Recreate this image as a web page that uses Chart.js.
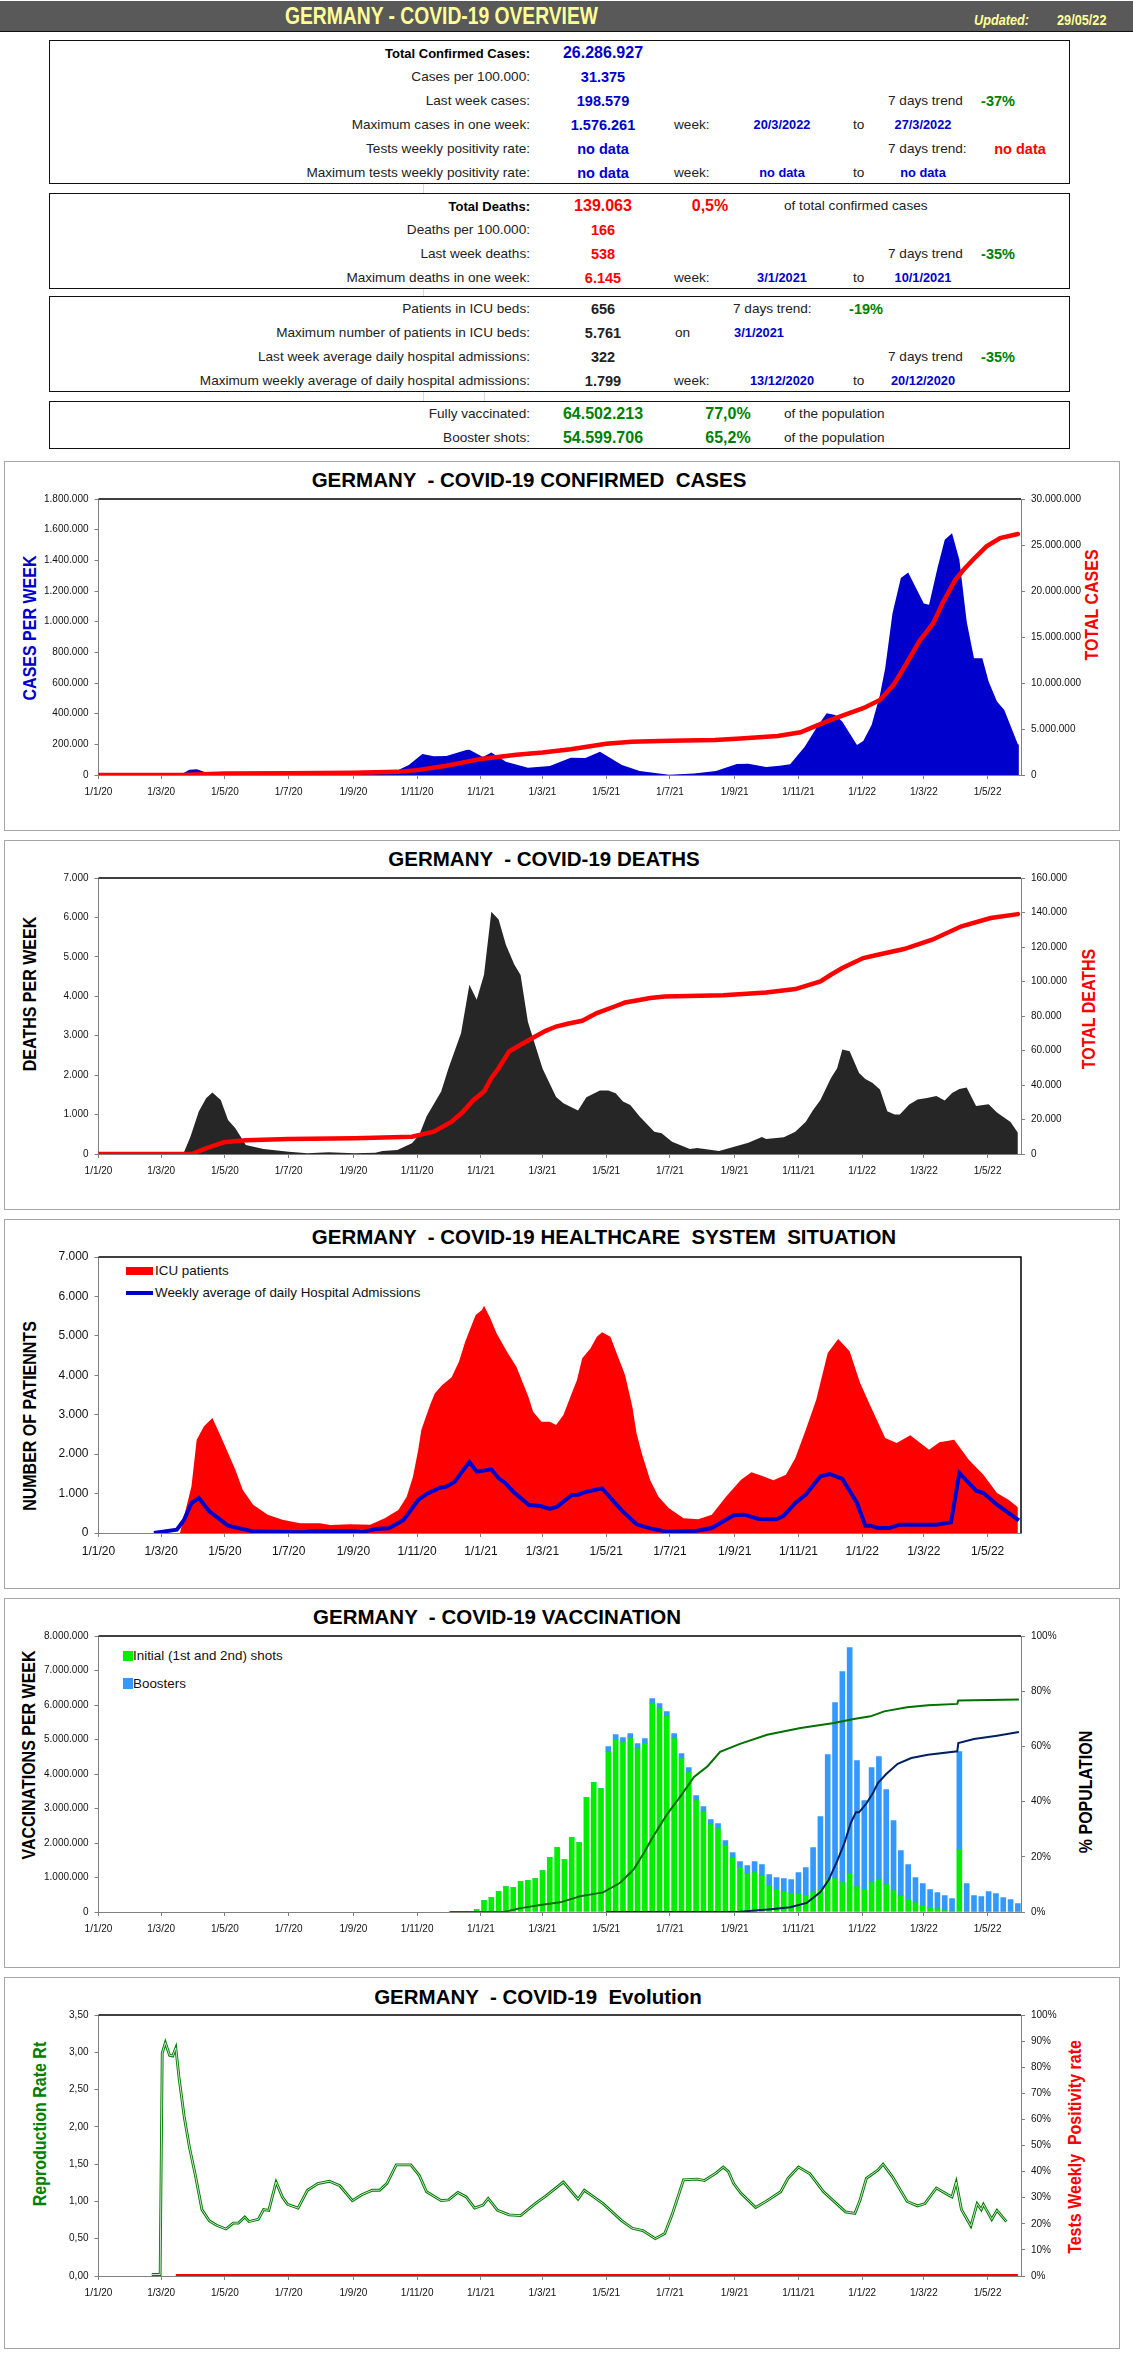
<!DOCTYPE html>
<html>
<head>
<meta charset="utf-8">
<title>Germany COVID-19 overview</title>
<script src="https://cdn.jsdelivr.net/npm/chart.js@4"></script>
<style>
html, body { margin: 0; padding: 0; background: #fff; }
body { position: relative; width: 1133px; height: 2367px; overflow: hidden; font-family: "Liberation Sans", Arial, sans-serif; color: #111; }
.abs { position: absolute; white-space: pre; line-height: 1; }
#header { position: absolute; left: 0; top: 1px; width: 1133px; height: 30px; background: #595959; border-bottom: 1px solid #111; }
.box { position: absolute; left: 49px; width: 1021px; border: 1.5px solid #111; box-sizing: border-box; }
.panel { position: absolute; left: 4px; width: 1116px; border: 1.5px solid #a6a6a6; box-sizing: border-box; }
.canvasWrap { position: absolute; left: 5px; width: 1115px; }
.title { position: absolute; font: bold 20.5px "Liberation Sans", Arial, sans-serif; color: #000; white-space: pre; transform: translate(-50%, -50%); line-height: 1; }
.vtitle { position: absolute; font: bold 16px "Liberation Sans", Arial, sans-serif; white-space: pre; transform: translate(-50%, -50%) rotate(-90deg) scale(1, 1.18); line-height: 1; }
.legendText { position: absolute; font: 13.4px "Liberation Sans", Arial, sans-serif; color: #111; white-space: pre; transform: translateY(-50%); line-height: 1; }
.swatch { position: absolute; }
.faint { position: absolute; width: 1px; background: #d9d9d9; }
</style>
</head>
<body>
<div id="header"></div>
<div id="page"></div>
<div class="canvasWrap" style="top:461px;height:370px"><canvas id="chart-cases"></canvas></div>
<div class="canvasWrap" style="top:840px;height:370px"><canvas id="chart-deaths"></canvas></div>
<div class="canvasWrap" style="top:1219px;height:370px"><canvas id="chart-health"></canvas></div>
<div class="canvasWrap" style="top:1598px;height:370px"><canvas id="chart-vaccination"></canvas></div>
<div class="canvasWrap" style="top:1977px;height:372px"><canvas id="chart-evolution"></canvas></div>
<script>
// x axis: days since 1/1/20
const tickDays = [0, 60, 121, 182, 244, 305, 366, 425, 486, 547, 609, 670, 731, 790, 851];
const tickLabels = ['1/1/20', '1/3/20', '1/5/20', '1/7/20', '1/9/20', '1/11/20', '1/1/21', '1/3/21', '1/5/21', '1/7/21', '1/9/21', '1/11/21', '1/1/22', '1/3/22', '1/5/22'];

const casesDays = [0, 78, 87, 94, 106, 116, 286, 297, 310, 321, 333, 352, 355, 368, 376, 390, 411, 432, 452, 466, 480, 501, 518, 546, 570, 591, 611, 622, 639, 652, 662, 676, 688, 697, 705, 712, 726, 732, 740, 748, 753, 760, 768, 775, 790, 795, 803, 810, 817, 824, 831, 838, 846, 852, 860, 867, 880, 881];
const casesWeekly = [0, 0, 35000, 38000, 10000, 3000, 30000, 65000, 137000, 122000, 124000, 163000, 165000, 117000, 146000, 87000, 48000, 59000, 113000, 111000, 152000, 65000, 26000, 2000, 9000, 26000, 72000, 74000, 52000, 61000, 70000, 185000, 316000, 403000, 392000, 348000, 196000, 222000, 326000, 522000, 696000, 1055000, 1284000, 1321000, 1118000, 1110000, 1349000, 1534000, 1576000, 1404000, 1001000, 762000, 762000, 609000, 479000, 424000, 200000, 199000];
const totalCasesDays = [0, 80, 121, 182, 244, 286, 305, 333, 366, 400, 425, 452, 486, 510, 547, 590, 611, 650, 672, 685, 701, 718, 732, 748, 761, 773, 786, 799, 808, 820, 828, 837, 850, 863, 880];
const totalCases = [0, 5000, 165000, 195000, 240000, 340000, 530000, 1000000, 1750000, 2200000, 2450000, 2800000, 3400000, 3620000, 3730000, 3800000, 3950000, 4250000, 4640000, 5260000, 5990000, 6710000, 7260000, 8160000, 9800000, 12040000, 14600000, 16500000, 18700000, 21200000, 22300000, 23400000, 24850000, 25760000, 26200000];

const deathsDays = [79, 82, 88, 96, 103, 109, 117, 124, 131, 141, 158, 182, 200, 220, 245, 265, 272, 286, 300, 307, 314, 328, 335, 347, 355, 362, 369, 376, 383, 390, 398, 404, 411, 425, 438, 445, 459, 467, 480, 488, 495, 502, 509, 518, 532, 539, 549, 566, 573, 594, 611, 622, 635, 639, 656, 667, 677, 684, 691, 701, 707, 712, 719, 728, 734, 741, 748, 755, 762, 767, 776, 784, 793, 802, 810, 817, 824, 831, 840, 852, 860, 873, 880];
const deathsWeekly = [0, 59, 440, 1075, 1414, 1558, 1371, 863, 652, 228, 127, 59, 17, 42, 17, 34, 76, 102, 271, 482, 948, 1583, 2176, 3065, 4291, 3911, 4545, 6145, 5950, 5298, 4807, 4537, 3353, 2167, 1448, 1287, 1101, 1439, 1609, 1609, 1541, 1329, 1245, 948, 567, 525, 313, 127, 152, 76, 203, 288, 432, 381, 423, 567, 821, 1117, 1371, 1921, 2176, 2650, 2607, 2057, 1904, 1803, 1633, 1083, 999, 999, 1253, 1380, 1422, 1473, 1354, 1549, 1651, 1685, 1219, 1261, 1050, 812, 538];
const totalDeathsDays = [0, 89, 103, 120, 141, 182, 245, 300, 321, 338, 349, 359, 369, 376, 383, 393, 404, 418, 428, 438, 449, 463, 477, 494, 504, 515, 528, 542, 598, 639, 667, 691, 701, 712, 722, 732, 746, 771, 798, 826, 854, 880];
const totalDeaths = [0, 0, 3300, 6770, 7930, 8700, 9100, 10060, 12960, 18770, 24570, 31300, 36200, 43900, 49700, 59400, 63300, 68100, 71400, 73900, 75500, 77200, 81700, 85500, 87800, 89000, 90400, 91300, 92100, 93600, 95600, 100000, 103900, 107800, 110700, 113600, 115500, 118800, 124200, 132000, 136800, 139063];

const icuDays = [78, 89, 94, 101, 109, 117, 124, 131, 138, 148, 162, 176, 193, 212, 222, 241, 260, 274, 287, 295, 301, 306, 309, 314, 318, 322, 329, 338, 345, 351, 356, 361, 367, 369, 375, 381, 391, 400, 407, 412, 416, 424, 432, 438, 445, 453, 458, 463, 471, 477, 482, 490, 496, 504, 511, 515, 520, 528, 536, 546, 560, 574, 587, 601, 615, 625, 636, 646, 658, 667, 677, 687, 698, 708, 719, 729, 739, 753, 764, 777, 795, 805, 819, 833, 847, 860, 871, 880];
const icuPatients = [0, 1184, 2367, 2705, 2916, 2451, 2029, 1606, 1099, 719, 465, 338, 245, 245, 203, 220, 211, 372, 583, 921, 1429, 2105, 2612, 2993, 3289, 3542, 3754, 3948, 4345, 4853, 5191, 5529, 5656, 5761, 5444, 5064, 4599, 4219, 3754, 3415, 3077, 2824, 2824, 2739, 2993, 3542, 3880, 4430, 4684, 4980, 5090, 4980, 4557, 4007, 3204, 2528, 2020, 1344, 921, 626, 372, 347, 465, 930, 1353, 1539, 1437, 1336, 1480, 1902, 2621, 3382, 4565, 4920, 4607, 3804, 3212, 2409, 2282, 2477, 2113, 2299, 2367, 1860, 1480, 1015, 846, 656];
const hospitalDays = [53, 75, 82, 89, 96, 106, 124, 148, 182, 196, 203, 245, 252, 265, 278, 292, 306, 314, 327, 333, 341, 348, 355, 362, 376, 383, 389, 397, 412, 423, 432, 439, 453, 459, 467, 482, 501, 515, 528, 544, 573, 587, 608, 618, 632, 649, 656, 667, 677, 691, 700, 712, 726, 734, 739, 746, 757, 767, 802, 816, 824, 840, 847, 860, 869, 881];
const hospitalAdmissions = [0, 85, 338, 761, 888, 550, 186, 42, 25, 17, 42, 42, 17, 101, 118, 330, 837, 989, 1150, 1175, 1302, 1555, 1799, 1555, 1615, 1386, 1277, 1048, 710, 685, 609, 668, 964, 972, 1048, 1133, 566, 220, 118, 34, 59, 127, 448, 465, 355, 347, 440, 761, 972, 1437, 1496, 1370, 761, 186, 186, 127, 127, 211, 211, 270, 1522, 1074, 1014, 719, 550, 322];

// weekly vaccination bars, first bar is the week of 28/12/20
const vaccFirstDay = 362;
const initialShots = [68000, 328000, 415000, 590000, 734000, 705000, 879000, 908000, 966000, 1198000, 1575000, 1865000, 1517000, 2155000, 2010000, 3314000, 3749000, 3575000, 4647000, 4995000, 4908000, 5024000, 4734000, 4879000, 6039000, 5894000, 5662000, 5024000, 4445000, 4039000, 3227000, 2908000, 2531000, 2416000, 1923000, 1575000, 1285000, 1111000, 1140000, 1053000, 763000, 647000, 589000, 531000, 531000, 473000, 560000, 647000, 937000, 966000, 850000, 1111000, 734000, 647000, 850000, 937000, 792000, 618000, 473000, 357000, 270000, 184000, 126000, 97000, 39000, 29000, 1807000, 0, 0, 0, 0, 0, 0, 0, 0];
const boosterShots = [0, 0, 0, 0, 0, 0, 0, 0, 0, 0, 0, 0, 0, 0, 0, 0, 0, 0, 145000, 145000, 145000, 145000, 145000, 145000, 145000, 145000, 145000, 145000, 144000, 145000, 145000, 145000, 145000, 144000, 145000, 145000, 174000, 232000, 319000, 319000, 319000, 348000, 377000, 406000, 609000, 812000, 1305000, 2116000, 3623000, 5102000, 6116000, 6551000, 3653000, 2580000, 3334000, 3565000, 2754000, 2029000, 1305000, 1015000, 725000, 637000, 521000, 463000, 434000, 357000, 2840000, 821000, 473000, 444000, 589000, 531000, 415000, 357000, 241000];
const fullyVaccDays = [336, 388, 404, 423, 442, 461, 483, 499, 512, 522, 531, 544, 557, 570, 583, 595, 614, 640, 672, 704, 723, 739, 752, 774, 794, 822, 823, 838, 881];
const fullyVaccPct = [0, 0, 1.4, 2.5, 3.5, 5.7, 7.1, 10.5, 15.3, 21.4, 27.4, 35.3, 41.9, 48.9, 52.8, 58, 60.9, 64.2, 66.7, 68.5, 69.9, 70.9, 72.7, 74.2, 74.9, 75.4, 76.6, 76.7, 77];
const boosterDays = [486, 614, 646, 662, 678, 691, 699, 707, 714, 720, 725, 728, 735, 741, 746, 754, 765, 778, 794, 822, 823, 838, 860, 881];
const boosterPct = [0, 0.1, 1.1, 1.7, 3.3, 7.2, 11.7, 18.4, 25, 32.2, 36.1, 36.1, 39.3, 42.9, 46.7, 50, 53.7, 55.8, 57, 58.2, 61.2, 62.7, 63.9, 65.2];

const rtDays = [51, 59, 61, 64, 68, 71, 74, 77, 82, 87, 93, 99, 106, 113, 122, 129, 134, 140, 144, 153, 158, 163, 170, 176, 181, 191, 200, 210, 221, 231, 243, 252, 262, 269, 276, 285, 299, 307, 314, 328, 335, 344, 352, 360, 368, 373, 382, 393, 404, 418, 428, 445, 459, 465, 473, 483, 501, 511, 521, 533, 542, 549, 560, 573, 580, 591, 598, 603, 608, 615, 629, 639, 653, 660, 670, 681, 694, 715, 724, 729, 735, 746, 751, 760, 774, 784, 791, 802, 813, 817, 821, 826, 835, 841, 845, 847, 855, 860, 869];
const rtValues = [0.02, 0.02, 2.99, 3.13, 2.96, 2.95, 3.06, 2.67, 2.14, 1.73, 1.33, 0.89, 0.74, 0.68, 0.63, 0.71, 0.71, 0.79, 0.73, 0.76, 0.89, 0.88, 1.26, 1.06, 0.96, 0.91, 1.15, 1.24, 1.27, 1.21, 1.01, 1.09, 1.15, 1.15, 1.24, 1.49, 1.49, 1.35, 1.13, 1.01, 1.02, 1.12, 1.06, 0.91, 0.95, 1.04, 0.88, 0.82, 0.81, 0.97, 1.07, 1.26, 1.03, 1.15, 1.07, 0.97, 0.74, 0.64, 0.61, 0.5, 0.57, 0.82, 1.29, 1.3, 1.28, 1.38, 1.46, 1.4, 1.24, 1.11, 0.92, 1, 1.13, 1.31, 1.46, 1.37, 1.13, 0.86, 0.84, 1.02, 1.31, 1.42, 1.5, 1.33, 1, 0.94, 0.97, 1.18, 1.09, 1.06, 1.26, 0.89, 0.67, 0.97, 0.89, 0.96, 0.76, 0.88, 0.73];
const positivityDays = [74, 880];
const positivityPct = [0.4, 0.4];

const axisFont = '"Liberation Sans", Arial, sans-serif';
const GRAY = '#808080';

function pairs(days, values) {
    return days.map(function (d, i) { return { x: d, y: values[i] }; });
}

function dotted(value) {
    return Number(value).toLocaleString('de-DE');
}

// top (and optional right) line of the plot frame
const plotFrame = {
    id: 'plotFrame',
    afterDatasetsDraw(chart, args, opts) {
        const a = chart.chartArea;
        const ctx = chart.ctx;
        ctx.save();
        ctx.strokeStyle = '#000';
        ctx.lineWidth = 1.5;
        ctx.beginPath();
        ctx.moveTo(a.left, a.top);
        ctx.lineTo(a.right, a.top);
        if (opts.right) {
            ctx.lineTo(a.right, a.bottom);
        }
        ctx.stroke();
        ctx.restore();
    }
};
Chart.register(plotFrame);

function xAxis(bottomHeight, fontSize) {
    return {
        type: 'linear',
        min: 0,
        max: 883,
        offset: false,
        afterBuildTicks: function (scale) {
            scale.ticks = tickDays.map(function (d) { return { value: d }; });
        },
        afterFit: function (scale) { scale.height = bottomHeight; },
        ticks: {
            autoSkip: false,
            maxRotation: 0,
            padding: 7,
            color: '#111',
            font: { family: axisFont, size: fontSize || 10 },
            callback: function (value) {
                const i = tickDays.indexOf(value);
                return i >= 0 ? tickLabels[i] : '';
            }
        },
        grid: { drawOnChartArea: false, offset: false, color: GRAY, tickLength: 4 },
        border: { color: GRAY }
    };
}

function yAxis(side, width, max, step, format, fontSize) {
    return {
        type: 'linear',
        position: side,
        min: 0,
        max: max,
        afterFit: function (scale) { scale.width = width; },
        ticks: {
            stepSize: step,
            padding: 6,
            color: '#111',
            font: { family: axisFont, size: fontSize || 10 },
            callback: format
        },
        grid: { drawOnChartArea: false, color: GRAY, tickLength: 4 },
        border: { color: GRAY }
    };
}

function makeChart(id, datasets, scales, top, rightPad, frameRight) {
    return new Chart(document.getElementById(id), {
        data: { datasets: datasets },
        options: {
            responsive: true,
            maintainAspectRatio: false,
            animation: false,
            parsing: { xAxisKey: 'x', yAxisKey: 'y' },
            layout: { padding: { top: top, left: 0, right: rightPad, bottom: 0 } },
            scales: scales,
            elements: { point: { radius: 0 }, line: { tension: 0 } },
            plugins: {
                legend: { display: false },
                tooltip: { enabled: false },
                plotFrame: { right: frameRight }
            }
        }
    });
}

const pct = function (v) { return v + '%'; };
const comma2 = function (v) { return Number(v).toFixed(2).replace('.', ','); };
const BOTTOM = 56;

makeChart('chart-cases', [
    { type: 'line', label: 'Total cases', data: pairs(totalCasesDays, totalCases), yAxisID: 'y1', borderColor: '#ff0000', borderWidth: 4.5, borderCapStyle: 'round', fill: false, order: 1 },
    { type: 'line', label: 'Cases per week', data: pairs(casesDays, casesWeekly), yAxisID: 'y', borderWidth: 0, backgroundColor: '#0000cc', fill: 'origin', order: 2 }
], {
    x: xAxis(BOTTOM),
    y: yAxis('left', 93.5, 1800000, 200000, dotted),
    y1: yAxis('right', 99, 30000000, 5000000, dotted)
}, 38, 0);

makeChart('chart-deaths', [
    { type: 'line', label: 'Total deaths', data: pairs(totalDeathsDays, totalDeaths), yAxisID: 'y1', borderColor: '#ff0000', borderWidth: 4.5, borderCapStyle: 'round', fill: false, order: 1 },
    { type: 'line', label: 'Deaths per week', data: pairs(deathsDays, deathsWeekly), yAxisID: 'y', borderWidth: 0, backgroundColor: '#262626', fill: 'origin', order: 2 }
], {
    x: xAxis(BOTTOM),
    y: yAxis('left', 93.5, 7000, 1000, dotted),
    y1: yAxis('right', 99, 160000, 20000, dotted)
}, 38, 0);

makeChart('chart-health', [
    { type: 'line', label: 'Weekly average of daily Hospital Admissions', data: pairs(hospitalDays, hospitalAdmissions), yAxisID: 'y', borderColor: '#0000cc', borderWidth: 4, fill: false, order: 1 },
    { type: 'line', label: 'ICU patients', data: pairs(icuDays, icuPatients), yAxisID: 'y', borderWidth: 0, backgroundColor: '#ff0000', fill: 'origin', order: 2 }
], {
    x: xAxis(BOTTOM, 12),
    y: yAxis('left', 93.5, 7000, 1000, dotted, 12)
}, 38, 99, true);

makeChart('chart-vaccination', [
    { type: 'line', label: 'Boosters %', data: pairs(boosterDays, boosterPct), yAxisID: 'y1', borderColor: '#002060', borderWidth: 2, fill: false, order: 1 },
    { type: 'line', label: 'Initial %', data: pairs(fullyVaccDays, fullyVaccPct), yAxisID: 'y1', borderColor: '#007000', borderWidth: 2, fill: false, order: 2 },
    { type: 'bar', label: 'Initial (1st and 2nd) shots', data: initialShots.map(function (v, i) { return { x: vaccFirstDay + i * 7, y: v }; }), yAxisID: 'y', backgroundColor: '#00ee00', barThickness: 5, stack: 'shots', order: 3 },
    { type: 'bar', label: 'Boosters', data: boosterShots.map(function (v, i) { return { x: vaccFirstDay + i * 7, y: v }; }), yAxisID: 'y', backgroundColor: '#3399ff', barThickness: 5, stack: 'shots', order: 3 }
], {
    x: Object.assign(xAxis(BOTTOM), { stacked: true }),
    y: Object.assign(yAxis('left', 93.5, 8000000, 1000000, dotted), { stacked: true }),
    y1: yAxis('right', 99, 100, 20, pct)
}, 38, 0);

makeChart('chart-evolution', [
    { type: 'line', label: 'Rt centre', data: pairs(rtDays, rtValues), yAxisID: 'y', borderColor: '#e2f2e2', borderWidth: 0.9, fill: false, order: 1 },
    { type: 'line', label: 'Reproduction Rate Rt', data: pairs(rtDays, rtValues), yAxisID: 'y', borderColor: '#007a00', borderWidth: 2.8, fill: false, order: 2 },
    { type: 'line', label: 'Tests Weekly Positivity rate', data: pairs(positivityDays, positivityPct), yAxisID: 'y1', borderColor: '#ff0000', borderWidth: 2, fill: false, order: 3 }
], {
    x: xAxis(73),
    y: yAxis('left', 93.5, 3.5, 0.5, comma2),
    y1: yAxis('right', 99, 100, 10, pct)
}, 38, 0);

// overview text, [text, x, centre y, align, size, bold, colour]
const BLUE = '#0000cc', RED = '#ff0000', GREEN = '#008000', DARK = '#222';
const L = 13.6, V = 14.5, D = 12.8, H = 13;
const overviewRows = [
    ['Total Confirmed Cases:', 530, 53, 'r', H, 1, '#000'], ['26.286.927', 603, 53, 'c', 16, 1, BLUE],
    ['Cases per 100.000:', 530, 77, 'r', L, 0, DARK], ['31.375', 603, 77, 'c', V, 1, BLUE],
    ['Last week cases:', 530, 101, 'r', L, 0, DARK], ['198.579', 603, 101, 'c', V, 1, BLUE], ['7 days trend', 888, 101, 'l', L, 0, DARK], ['-37%', 998, 101, 'c', V, 1, GREEN],
    ['Maximum cases in one week:', 530, 125, 'r', L, 0, DARK], ['1.576.261', 603, 125, 'c', V, 1, BLUE], ['week:', 674, 125, 'l', L, 0, DARK], ['20/3/2022', 782, 125, 'c', D, 1, BLUE], ['to', 853, 125, 'l', L, 0, DARK], ['27/3/2022', 923, 125, 'c', D, 1, BLUE],
    ['Tests weekly positivity rate:', 530, 149, 'r', L, 0, DARK], ['no data', 603, 149, 'c', V, 1, BLUE], ['7 days trend:', 888, 149, 'l', L, 0, DARK], ['no data', 1020, 149, 'c', V, 1, RED],
    ['Maximum tests weekly positivity rate:', 530, 173, 'r', L, 0, DARK], ['no data', 603, 173, 'c', V, 1, BLUE], ['week:', 674, 173, 'l', L, 0, DARK], ['no data', 782, 173, 'c', D, 1, BLUE], ['to', 853, 173, 'l', L, 0, DARK], ['no data', 923, 173, 'c', D, 1, BLUE],

    ['Total Deaths:', 530, 206, 'r', H, 1, '#000'], ['139.063', 603, 206, 'c', 16, 1, RED], ['0,5%', 710, 206, 'c', 16, 1, RED], ['of total confirmed cases', 784, 206, 'l', L, 0, DARK],
    ['Deaths per 100.000:', 530, 230, 'r', L, 0, DARK], ['166', 603, 230, 'c', V, 1, RED],
    ['Last week deaths:', 530, 254, 'r', L, 0, DARK], ['538', 603, 254, 'c', V, 1, RED], ['7 days trend', 888, 254, 'l', L, 0, DARK], ['-35%', 998, 254, 'c', V, 1, GREEN],
    ['Maximum deaths in one week:', 530, 278, 'r', L, 0, DARK], ['6.145', 603, 278, 'c', V, 1, RED], ['week:', 674, 278, 'l', L, 0, DARK], ['3/1/2021', 782, 278, 'c', D, 1, BLUE], ['to', 853, 278, 'l', L, 0, DARK], ['10/1/2021', 923, 278, 'c', D, 1, BLUE],

    ['Patients in ICU beds:', 530, 309, 'r', L, 0, DARK], ['656', 603, 309, 'c', V, 1, DARK], ['7 days trend:', 733, 309, 'l', L, 0, DARK], ['-19%', 866, 309, 'c', V, 1, GREEN],
    ['Maximum number of patients in ICU beds:', 530, 333, 'r', L, 0, DARK], ['5.761', 603, 333, 'c', V, 1, DARK], ['on', 675, 333, 'l', L, 0, DARK], ['3/1/2021', 759, 333, 'c', D, 1, BLUE],
    ['Last week average daily hospital admissions:', 530, 357, 'r', L, 0, DARK], ['322', 603, 357, 'c', V, 1, DARK], ['7 days trend', 888, 357, 'l', L, 0, DARK], ['-35%', 998, 357, 'c', V, 1, GREEN],
    ['Maximum weekly average of daily hospital admissions:', 530, 381, 'r', L, 0, DARK], ['1.799', 603, 381, 'c', V, 1, DARK], ['week:', 674, 381, 'l', L, 0, DARK], ['13/12/2020', 782, 381, 'c', D, 1, BLUE], ['to', 853, 381, 'l', L, 0, DARK], ['20/12/2020', 923, 381, 'c', D, 1, BLUE],

    ['Fully vaccinated:', 530, 414, 'r', L, 0, DARK], ['64.502.213', 603, 414, 'c', 16, 1, GREEN], ['77,0%', 728, 414, 'c', 16, 1, GREEN], ['of the population', 784, 414, 'l', L, 0, DARK],
    ['Booster shots:', 530, 438, 'r', L, 0, DARK], ['54.599.706', 603, 438, 'c', 16, 1, GREEN], ['65,2%', 728, 438, 'c', 16, 1, GREEN], ['of the population', 784, 438, 'l', L, 0, DARK]
];
const boxes = [[40, 144], [193, 96], [296, 96], [401, 48]];
const panels = [[461, 370], [840, 370], [1219, 370], [1598, 370], [1977, 372]];
const chartTitles = [
    ['GERMANY  - COVID-19 CONFIRMED  CASES', 529, 480],
    ['GERMANY  - COVID-19 DEATHS', 544, 859],
    ['GERMANY  - COVID-19 HEALTHCARE  SYSTEM  SITUATION', 604, 1237],
    ['GERMANY  - COVID-19 VACCINATION', 497, 1617],
    ['GERMANY  - COVID-19  Evolution', 538, 1997]
];
const sideTitles = [
    ['CASES PER WEEK', 30, 628, BLUE], ['TOTAL CASES', 1092, 605, RED],
    ['DEATHS PER WEEK', 30, 994, '#000'], ['TOTAL DEATHS', 1089, 1009, RED],
    ['NUMBER OF PATIENNTS', 30, 1416, '#000'],
    ['VACCINATIONS PER WEEK', 29, 1755, '#000'], ['% POPULATION', 1086, 1792, '#000'],
    ['Reproduction Rate Rt', 40, 2124, GREEN], ['Tests Weekly  Positivity rate', 1075, 2147, RED]
];

const page = document.getElementById('page');

function addText(text, x, y, align, size, bold, color, squeeze, italic) {
    const el = document.createElement('div');
    el.className = 'abs';
    el.textContent = text;
    el.style.left = x + 'px';
    el.style.top = y + 'px';
    el.style.fontSize = size + 'px';
    el.style.fontWeight = bold ? 'bold' : 'normal';
    el.style.color = color;
    if (italic) { el.style.fontStyle = 'italic'; }
    const dx = align === 'r' ? '-100%' : (align === 'c' ? '-50%' : '0');
    el.style.transformOrigin = 'left center';
    el.style.transform = 'translate(' + dx + ', -50%)' + (squeeze ? ' scaleX(' + squeeze + ')' : '');
    page.appendChild(el);
}

function addDiv(className, css, text) {
    const el = document.createElement('div');
    el.className = className;
    el.style.cssText = css;
    if (text) { el.textContent = text; }
    page.appendChild(el);
}

addText('GERMANY - COVID-19 OVERVIEW', 285, 17, 'l', 23.5, 1, '#ffff99', 0.82);
addText('Updated:', 974, 20, 'l', 15.5, 1, '#ffff99', 0.82, true);
addText('29/05/22', 1057, 20, 'l', 15.5, 1, '#ffff99', 0.82);

boxes.forEach(function (b) { addDiv('box', 'top:' + b[0] + 'px;height:' + b[1] + 'px'); });
overviewRows.forEach(function (r) { addText(r[0], r[1], r[2], r[3], r[4], r[5], r[6]); });
panels.forEach(function (p) { addDiv('panel', 'top:' + p[0] + 'px;height:' + p[1] + 'px'); });
[[423, 184, 9], [423, 289, 7], [423, 392, 9], [484, 392, 9]].forEach(function (f) {
    addDiv('faint', 'left:' + f[0] + 'px;top:' + f[1] + 'px;height:' + f[2] + 'px');
});
chartTitles.forEach(function (t) { addDiv('title', 'left:' + t[1] + 'px;top:' + t[2] + 'px', t[0]); });
sideTitles.forEach(function (t) { addDiv('vtitle', 'left:' + t[1] + 'px;top:' + t[2] + 'px;color:' + t[3], t[0]); });

// legends inside the plots of charts 3 and 4
addDiv('swatch', 'left:126px;top:1267px;width:27px;height:8px;background:#ff0000');
addDiv('legendText', 'left:155px;top:1271px', 'ICU patients');
addDiv('swatch', 'left:126px;top:1291px;width:27px;height:4px;background:#0000cc');
addDiv('legendText', 'left:155px;top:1293px', 'Weekly average of daily Hospital Admissions');
addDiv('swatch', 'left:123px;top:1651px;width:10px;height:10px;background:#00ee00');
addDiv('legendText', 'left:133px;top:1656px', 'Initial (1st and 2nd) shots');
addDiv('swatch', 'left:123px;top:1678px;width:10px;height:11px;background:#3399ff');
addDiv('legendText', 'left:133px;top:1684px', 'Boosters');
</script>
</body>
</html>
